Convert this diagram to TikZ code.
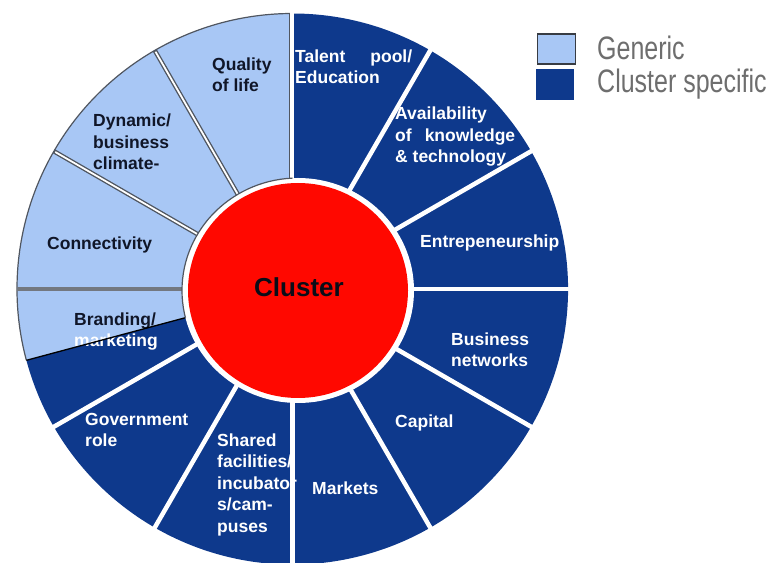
\documentclass[tikz,border=0pt]{standalone}
\usepackage{fontspec}
\setmainfont{Liberation Sans}
\definecolor{darkseg}{RGB}{14,57,140}
\definecolor{lightseg}{RGB}{168,199,245}
\definecolor{segline}{RGB}{80,86,96}
\definecolor{hub}{RGB}{255,8,0}
\definecolor{inktext}{RGB}{16,22,40}
\definecolor{legendtext}{RGB}{110,110,110}
\begin{document}
\begin{tikzpicture}[x=1pt,y=1pt,
  % multi-line labels sit on the baseline of their last line
  lbl/.style={anchor=base west, inner sep=0pt, align=left,
    font=\bfseries\fontsize{17.5}{21.5}\selectfont},
  darklbl/.style={lbl, text=white},
  lightlbl/.style={lbl, text=inktext},
  gap/.style={white, line width=4.5pt},
  lightgap/.style={segline, line width=4.5pt},
  keytext/.style={anchor=base west, inner sep=0pt, text=legendtext,
    font=\fontsize{25}{30}\selectfont},
  keybox/.style={anchor=north west, inner sep=0pt, minimum width=38pt}]
\useasboundingbox (0,0) rectangle (778,562);

% centre of the ring and of the hub
\coordinate (C) at (292.5,273);
\coordinate (H) at (298,271.5);
\def\R{275.5pt}

% ring: generic part (light) and cluster-specific part (dark)
\fill[lightseg] (C) -- ++(90:\R) arc[start angle=90, end angle=195, radius=\R] -- cycle;
\fill[darkseg] (C) -- ++(195:\R) arc[start angle=195, end angle=450, radius=\R] -- cycle;
\draw[segline, line width=1.2pt] (C) ++(90:\R) arc[start angle=90, end angle=195, radius=\R];

% segment labels
\node[lightlbl] (qol) at (212,470) {Quality\\of life};
\node[lightlbl] (dyn) at (93,392) {Dynamic/\\business\\climate-};
\node[lightlbl] (con) at (47,312) {Connectivity};
\node[lbl] (brand) at (74,215) {\textcolor{inktext}{Branding/}\\\textcolor{white}{marketing}};
\node[darklbl] (talent) at (295,478) {\makebox[117pt][s]{Talent pool/}\\Education};
\node[darklbl] (avail) at (395,399) {Availability\\\makebox[120pt][s]{of knowledge}\\\& technology};
\node[darklbl] (entre) at (420,314) {Entrepeneurship};
\node[darklbl] (bnet) at (451,195) {Business\\networks};
\node[darklbl] (cap) at (395,135) {Capital};
\node[darklbl] (mkt) at (312,68) {Markets};
\node[darklbl] (shared) at (217,30) {Shared\\facilities/\\incubator\\s/cam-\\puses};
\node[darklbl] (gov) at (85,115) {Government\\role};

% dividers between cluster-specific segments
\foreach \a in {-150,-120,-90,-60,-30,0,30,60}
  \draw[gap] (C) -- ++(\a:280pt);
\draw[segline, line width=1.2pt] (C) ++(-2.8,0) -- ++(0,275.5);
\draw[white, line width=4pt] (C) ++(-0.2,0) -- ++(0,280);

% dividers between generic segments
\foreach \a in {120,150} {
  \draw[lightgap] (C) -- ++(\a:\R);
  \draw[white, line width=1.8pt] (C) -- ++(\a:274pt);
}
\draw[segline!80, line width=4pt] (C) -- ++(180:\R);
\draw[black, line width=1.3pt] (C) -- ++(195:\R);

% hub with its white margin
\fill[white] (H) ellipse[x radius=116pt, y radius=112.5pt];
\begin{scope}
  \clip (C) -- ++(90:300pt) arc[start angle=90, end angle=195, radius=300pt] -- cycle;
  \draw[segline, line width=1.2pt] (H) ellipse[x radius=116pt, y radius=112.5pt];
\end{scope}
\fill[hub] (H) ellipse[x radius=110pt, y radius=107.5pt];
\node[anchor=base, inner sep=0pt, text=inktext!60!black,
  font=\bfseries\fontsize{26}{30}\selectfont] (hubtext) at (299,265) {Cluster};

% legend
\node[keybox, fill=lightseg, draw=segline!70!black, line width=1.3pt,
  minimum height=30pt] (keygen) at (536.5,528.5) {};
\node[keybox, fill=darkseg, minimum height=31pt] (keyspec) at (536,493) {};
\node[keytext] (gentext) at (597,502) {\scalebox{1}[1.3]{Generic}};
\node[keytext] (spectext) at (597,469) {\scalebox{1}[1.3]{Cluster specific}};
\end{tikzpicture}
\end{document}
